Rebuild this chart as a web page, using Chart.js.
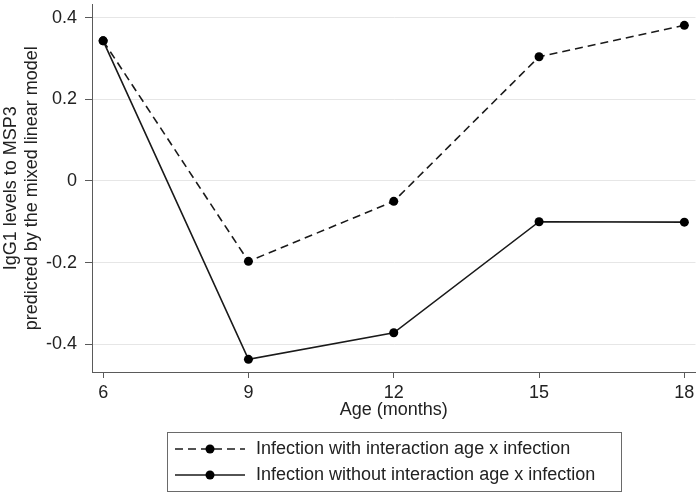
<!DOCTYPE html>
<html>
<head>
<meta charset="utf-8">
<script src="https://cdn.jsdelivr.net/npm/chart.js@4"></script>
<style>
  html, body { margin: 0; padding: 0; background: #fff; }
  #wrap { width: 700px; height: 495px; position: relative; }
</style>
</head>
<body>
<div id="wrap"><canvas id="grafico"></canvas></div>
<script>
// dados
const meses = [6, 9, 12, 15, 18];
const comInteracao = [0.343, -0.197, -0.05, 0.304, 0.381];
const semInteracao = [0.343, -0.437, -0.372, -0.1, -0.101];
const ticksY = [-0.4, -0.2, 0, 0.2, 0.4];
const ticksX = [6, 9, 12, 15, 18];
const rotulos = [
    "Infection with interaction age x infection",
    "Infection without interaction age x infection"
];

const fonte = "'Liberation Sans', Arial, sans-serif";
const tamanho = 18;
const corTexto = "#222";
const corEixo = "#5a5a5a";

// legenda em caixa, estilo Stata
const legendaCaixa = {
    id: "legendaCaixa",
    afterDraw(chart) {
        const ctx = chart.ctx;
        ctx.save();
        ctx.strokeStyle = "#6a6a6a";
        ctx.lineWidth = 1;
        ctx.strokeRect(167.5, 432.5, 454, 59);

        chart.data.datasets.forEach((ds, i) => {
            const y = 449 + i * 26;
            ctx.strokeStyle = ds.borderColor;
            ctx.lineWidth = ds.borderWidth;
            ctx.setLineDash(ds.borderDash || []);
            ctx.beginPath();
            ctx.moveTo(175, y);
            ctx.lineTo(245, y);
            ctx.stroke();
            ctx.setLineDash([]);
            ctx.fillStyle = ds.pointBackgroundColor;
            ctx.beginPath();
            ctx.arc(210, y, ds.pointRadius, 0, Math.PI * 2);
            ctx.fill();
            ctx.fillStyle = corTexto;
            ctx.font = tamanho + "px " + fonte;
            ctx.textBaseline = "middle";
            ctx.textAlign = "left";
            ctx.fillText(ds.label, 256, y);
        });
        ctx.restore();
    }
};

new Chart(document.getElementById("grafico"), {
    type: "line",
    data: {
        datasets: [
            {
                label: rotulos[0],
                data: meses.map((m, i) => ({ x: m, y: comInteracao[i] })),
                borderColor: "#1a1a1a",
                borderWidth: 1.6,
                borderDash: [8, 5],
                pointRadius: 4.5,
                pointBackgroundColor: "#000",
                pointBorderWidth: 0,
                tension: 0
            },
            {
                label: rotulos[1],
                data: meses.map((m, i) => ({ x: m, y: semInteracao[i] })),
                borderColor: "#1a1a1a",
                borderWidth: 1.6,
                pointRadius: 4.5,
                pointBackgroundColor: "#000",
                pointBorderWidth: 0,
                tension: 0
            }
        ]
    },
    options: {
        responsive: true,
        maintainAspectRatio: false,
        animation: false,
        layout: { padding: { left: 0, right: 3, top: 0, bottom: 0 } },
        plugins: {
            legend: { display: false },
            tooltip: { enabled: false }
        },
        scales: {
            x: {
                type: "linear",
                min: 5.77,
                max: 18.23,
                afterBuildTicks: (s) => { s.ticks = ticksX.map(v => ({ value: v })); },
                afterFit: (s) => {
                    s.height = 123;
                    s.paddingLeft = 0;
                    s.paddingRight = 0;
                },
                border: { display: true, color: corEixo, width: 1 },
                grid: {
                    drawOnChartArea: false,
                    drawTicks: true,
                    tickLength: 6,
                    tickColor: corEixo
                },
                ticks: {
                    color: corTexto,
                    font: { family: fonte, size: tamanho },
                    padding: 4,
                    maxRotation: 0,
                    callback: (v) => String(v)
                },
                title: {
                    display: true,
                    text: "Age (months)",
                    color: corTexto,
                    font: { family: fonte, size: tamanho },
                    padding: { top: 0, bottom: 74.2 }
                }
            },
            y: {
                type: "linear",
                min: -0.468,
                max: 0.432,
                afterBuildTicks: (s) => { s.ticks = ticksY.map(v => ({ value: v })); },
                afterFit: (s) => {
                    s.width = 92;
                    s.paddingTop = 0;
                    s.paddingBottom = 0;
                },
                border: { display: true, color: corEixo, width: 1 },
                grid: {
                    color: "#e6e6e6",
                    lineWidth: 1,
                    drawTicks: true,
                    tickLength: 7,
                    tickColor: corEixo
                },
                ticks: {
                    color: corTexto,
                    font: { family: fonte, size: tamanho },
                    padding: 8,
                    callback: (v) => String(Math.round(v * 10) / 10)
                },
                title: {
                    display: true,
                    text: ["IgG1 levels to MSP3", "predicted by the mixed linear model"],
                    color: corTexto,
                    font: { family: fonte, size: tamanho },
                    padding: { top: 0, bottom: 0 }
                }
            }
        }
    },
    plugins: [legendaCaixa]
});
</script>
</body>
</html>
